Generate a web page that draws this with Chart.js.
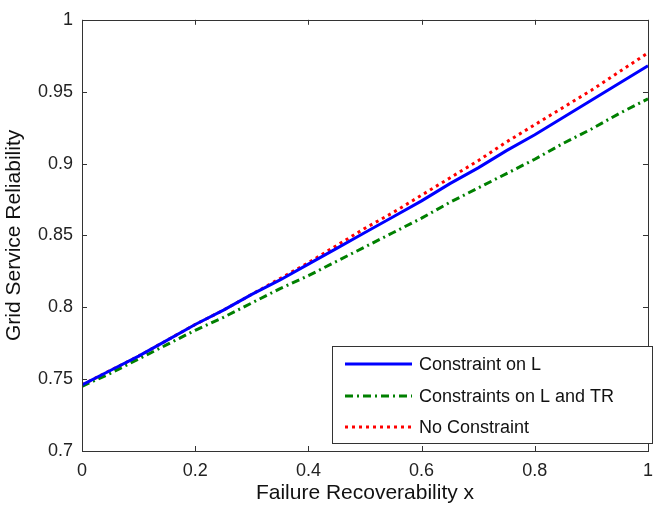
<!DOCTYPE html>
<html>
<head>
<meta charset="utf-8">
<script src="https://cdn.jsdelivr.net/npm/chart.js@4/dist/chart.umd.min.js"></script>
<style>
html,body{margin:0;padding:0;background:#fff;}
#wrap{width:662px;height:506px;position:relative;}
</style>
</head>
<body>
<div id="wrap"><canvas id="c" width="662" height="506"></canvas></div>
<script>
const xValues = [0,0.05,0.1,0.15,0.2,0.25,0.3,0.35,0.4,0.45,0.5,0.55,0.6,0.65,0.7,0.75,0.8,0.85,0.9,0.95,1];
const constraintOnL = [0.746,0.756,0.766,0.777,0.788,0.798,0.809,0.819,0.830,0.841,0.852,0.863,0.874,0.886,0.897,0.909,0.920,0.932,0.944,0.956,0.968];
const constraintsOnLandTR = [0.745,0.754,0.764,0.774,0.784,0.793,0.803,0.813,0.822,0.832,0.842,0.852,0.862,0.873,0.883,0.893,0.903,0.914,0.924,0.935,0.945];
const noConstraint = [0.746,0.756,0.766,0.777,0.788,0.798,0.809,0.820,0.831,0.843,0.855,0.866,0.878,0.890,0.902,0.915,0.927,0.939,0.951,0.964,0.977];
const seriesNames = ["Constraint on L","Constraints on L and TR","No Constraint"];
const xTicks = [0,0.2,0.4,0.6,0.8,1];
const yTicks = [0.7,0.75,0.8,0.85,0.9,0.95,1];

const FONT = "'Liberation Sans', Arial, sans-serif";
const toPts = arr => arr.map((v,i)=>({x:xValues[i], y:v}));

const innerTicks = {
  id:'innerTicks',
  afterDraw(chart){
    const ctx = chart.ctx, a = chart.chartArea;
    const xs = chart.scales.x, ys = chart.scales.y;
    ctx.save();
    ctx.strokeStyle = '#333';
    ctx.lineWidth = 1;
    ctx.beginPath();
    const L = 5;
    xTicks.forEach(v=>{
      const p = Math.round(xs.getPixelForValue(v))+0.5;
      ctx.moveTo(p,a.bottom); ctx.lineTo(p,a.bottom-L);
      ctx.moveTo(p,a.top); ctx.lineTo(p,a.top+L);
    });
    yTicks.forEach(v=>{
      const p = Math.round(ys.getPixelForValue(v))+0.5;
      ctx.moveTo(a.left,p); ctx.lineTo(a.left+L,p);
      ctx.moveTo(a.right,p); ctx.lineTo(a.right-L,p);
    });
    ctx.stroke();
    ctx.strokeRect(Math.round(a.left)+0.5, Math.round(a.top)+0.5, Math.round(a.right-a.left), Math.round(a.bottom-a.top));
    ctx.restore();

    // legend box
    const bx=332, by=346, bw=320, bh=97;
    ctx.save();
    ctx.fillStyle='#fff';
    ctx.fillRect(bx,by,bw,bh);
    ctx.strokeStyle='#333';
    ctx.lineWidth=1;
    ctx.strokeRect(bx+0.5,by+0.5,bw,bh);
    const rows=[364,396,427];
    chart.data.datasets.forEach((ds,i)=>{
      ctx.save();
      ctx.strokeStyle=ds.borderColor;
      ctx.lineWidth=ds.borderWidth;
      ctx.setLineDash(ds.borderDash||[]);
      ctx.beginPath();
      ctx.moveTo(345,rows[i]); ctx.lineTo(412,rows[i]);
      ctx.stroke();
      ctx.restore();
      ctx.fillStyle='#111';
      ctx.font='18px '+FONT;
      ctx.textBaseline='middle';
      ctx.textAlign='left';
      ctx.fillText(ds.label,419,rows[i]+1);
    });
    ctx.restore();
  }
};

new Chart(document.getElementById('c'),{
  type:'line',
  data:{
    datasets:[
      {label:seriesNames[0], data:toPts(constraintOnL), borderColor:'#0000ff', borderWidth:3, pointRadius:0, tension:0},
      {label:seriesNames[1], data:toPts(constraintsOnLandTR), borderColor:'#008000', borderWidth:3, borderDash:[8,4,2,4], pointRadius:0, tension:0},
      {label:seriesNames[2], data:toPts(noConstraint), borderColor:'#ff0000', borderWidth:3, borderDash:[3,4], pointRadius:0, tension:0}
    ]
  },
  options:{
    responsive:false,
    animation:false,
    layout:{padding:{top:11,right:4,left:0,bottom:0}},
    plugins:{legend:{display:false},tooltip:{enabled:false}},
    scales:{
      x:{
        type:'linear', min:0, max:1,
        afterBuildTicks(s){ s.ticks = xTicks.map(v=>({value:v})); },
        afterFit(s){ s.height = 55; },
        grid:{display:false, drawTicks:false},
        border:{display:false},
        ticks:{padding:9, color:'#222', font:{family:FONT,size:18}, maxRotation:0,
          callback:v=>String(Math.round(v*10)/10)},
        title:{display:true, text:'Failure Recoverability x', color:'#111', font:{family:FONT,size:21}, padding:{top:1,bottom:0}}
      },
      y:{
        type:'linear', min:0.7, max:1,
        afterBuildTicks(s){ s.ticks = yTicks.map(v=>({value:v})); },
        afterFit(s){ s.width = 82; },
        grid:{display:false, drawTicks:false},
        border:{display:false},
        ticks:{padding:9, color:'#222', font:{family:FONT,size:18},
          callback:v=>String(Math.round(v*100)/100)},
        title:{display:true, text:'Grid Service Reliability', color:'#111', font:{family:FONT,size:21}, padding:{top:2,bottom:3}}
      }
    }
  },
  plugins:[innerTicks]
});
</script>
</body>
</html>
